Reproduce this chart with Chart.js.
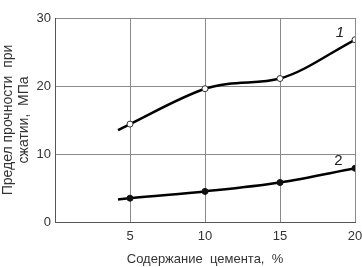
<!DOCTYPE html>
<html>
<head>
<meta charset="utf-8">
<script src="https://cdn.jsdelivr.net/npm/chart.js@4"></script>
<style>
  html, body { margin: 0; padding: 0; background: #fff; }
  #wrap { width: 362px; height: 267px; }
</style>
</head>
<body>
<div id="wrap"><canvas id="chart"></canvas></div>
<script>
// values (cement content, %  ->  strength, MPa)
const curve1X = [4.2, 5, 10, 11.5, 15, 20];
const curve1Y = [13.5, 14.4, 19.6, 20.3, 21.1, 26.8];
const curve1Marks = [false, true, true, false, true, true];

const curve2X = [4.2, 5, 10, 15, 20];
const curve2Y = [3.3, 3.5, 4.5, 5.8, 7.9];
const curve2Marks = [false, true, true, true, true];

const xTicks = [5, 10, 15, 20];
const yTicks = [0, 10, 20, 30];

function toPoints(xs, ys) {
  return xs.map((x, i) => ({ x: x, y: ys[i] }));
}

const FONT = "'Liberation Sans', Arial, sans-serif";

// curve numbers written next to the lines
const curveLabels = {
  id: "curveLabels",
  afterDatasetsDraw(chart) {
    const { ctx, scales } = chart;
    ctx.save();
    ctx.fillStyle = "#222";
    ctx.textAlign = "center";
    ctx.textBaseline = "middle";
    ctx.font = "italic 15px " + FONT;
    ctx.fillText("1", scales.x.getPixelForValue(19.0), scales.y.getPixelForValue(27.8));
    ctx.font = "15px " + FONT;
    ctx.fillText("2", scales.x.getPixelForValue(18.9), scales.y.getPixelForValue(9.0));
    ctx.restore();
  }
};

document.addEventListener("DOMContentLoaded", () => {
  const ctx = document.getElementById("chart").getContext("2d");
  new Chart(ctx, {
    type: "scatter",
    data: {
      datasets: [
        {
          label: "1",
          data: toPoints(curve1X, curve1Y),
          showLine: true,
          borderColor: "#000",
          borderWidth: 2.5,
          cubicInterpolationMode: "monotone",
          pointRadius: curve1Marks.map(m => m ? 3 : 0),
          pointBackgroundColor: "#fff",
          pointBorderColor: "#333",
          pointBorderWidth: 1
        },
        {
          label: "2",
          data: toPoints(curve2X, curve2Y),
          showLine: true,
          borderColor: "#000",
          borderWidth: 2.5,
          cubicInterpolationMode: "monotone",
          pointRadius: curve2Marks.map(m => m ? 3 : 0),
          pointBackgroundColor: "#111",
          pointBorderColor: "#111",
          pointBorderWidth: 1
        }
      ]
    },
    options: {
      responsive: true,
      maintainAspectRatio: false,
      animation: false,
      events: [],
      layout: { padding: { top: 18, right: 7, left: 0, bottom: 0 } },
      plugins: { legend: { display: false }, tooltip: { enabled: false } },
      scales: {
        x: {
          type: "linear",
          min: 0,
          max: 20,
          afterBuildTicks: s => { s.ticks = [0].concat(xTicks).map(v => ({ value: v })); },
          afterFit: s => { s.height = 45; s.paddingRight = 0; s.paddingLeft = 0; },
          grid: { color: "#8a8a8a", lineWidth: 1, drawTicks: false },
          border: { color: "#555", width: 1 },
          ticks: {
            padding: 7,
            color: "#333",
            font: { family: FONT, size: 13 },
            callback: v => (v === 0 ? "" : v)
          },
          title: {
            display: true,
            text: "Содержание  цемента,  %",
            color: "#333",
            font: { family: FONT, size: 13 },
            padding: { top: 1, bottom: 0 }
          }
        },
        y: {
          min: 0,
          max: 30,
          afterBuildTicks: s => { s.ticks = yTicks.map(v => ({ value: v })); },
          afterFit: s => { s.width = 55; },
          grid: { color: "#8a8a8a", lineWidth: 1, drawTicks: false },
          border: { color: "#555", width: 1 },
          ticks: {
            padding: 4,
            color: "#333",
            font: { family: FONT, size: 13 }
          },
          title: {
            display: true,
            text: ["Предел прочности  при", "сжатии,  МПа"],
            color: "#333",
            font: { family: FONT, size: 14, lineHeight: 1.15 },
            padding: { top: 0, bottom: 0 }
          }
        }
      }
    },
    plugins: [curveLabels]
  });
});
</script>
</body>
</html>
